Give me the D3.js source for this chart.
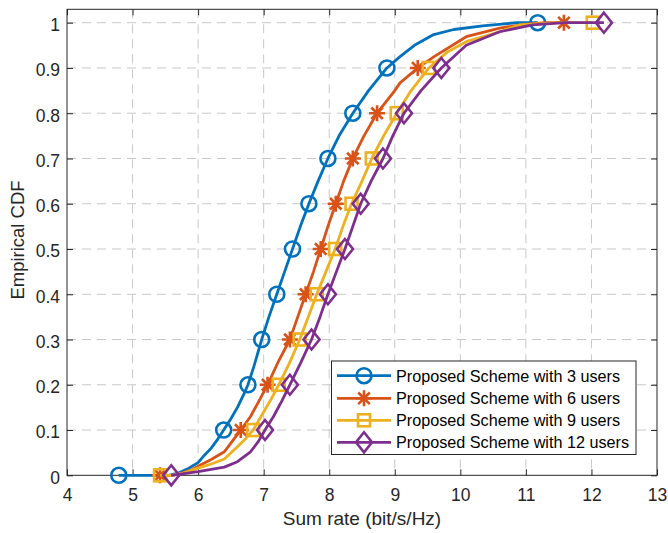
<!DOCTYPE html>
<html><head><meta charset="utf-8">
<script src="https://cdn.jsdelivr.net/npm/d3@7"></script>
<style>body{margin:0;background:#fff}svg{display:block}text{font-family:"Liberation Sans",Arial,Helvetica,sans-serif}</style>
</head><body>
<script>
const xTicks = [4,5,6,7,8,9,10,11,12,13];
const yTicks = [0,0.1,0.2,0.3,0.4,0.5,0.6,0.7,0.8,0.9,1];
const seriesNames = ["Proposed Scheme with 3 users","Proposed Scheme with 6 users","Proposed Scheme with 9 users","Proposed Scheme with 12 users"];
const markerLevels = [0,0.1,0.2,0.3,0.4,0.5,0.6,0.7,0.8,0.9,1];

// curve points [sum rate, CDF]
const users3 = [[4.79,0],[5.55,0],[5.7,0.005],[5.85,0.015],[6.0,0.028],[6.1,0.045],[6.2,0.06],[6.3,0.08],[6.39,0.1],[6.5,0.125],[6.6,0.15],[6.7,0.18],[6.76,0.2],[6.85,0.24],[6.97,0.3],[7.08,0.35],[7.2,0.4],[7.32,0.45],[7.44,0.5],[7.56,0.55],[7.69,0.6],[7.83,0.65],[7.98,0.7],[8.15,0.75],[8.36,0.8],[8.6,0.85],[8.88,0.9],[9.08,0.925],[9.3,0.95],[9.58,0.973],[9.9,0.985],[10.34,0.993],[10.86,1.0],[11.18,1.0]];
const users6 = [[5.42,0],[5.6,0],[5.75,0.005],[5.9,0.012],[6.0,0.02],[6.2,0.035],[6.4,0.052],[6.52,0.075],[6.65,0.1],[6.8,0.13],[6.95,0.17],[7.06,0.2],[7.22,0.25],[7.4,0.3],[7.52,0.35],[7.64,0.4],[7.76,0.45],[7.87,0.5],[7.98,0.55],[8.1,0.6],[8.22,0.65],[8.36,0.7],[8.53,0.75],[8.73,0.8],[9.0,0.85],[9.08,0.867],[9.35,0.9],[9.6,0.925],[10.09,0.969],[10.6,0.988],[11.0,0.997],[11.3,1.0],[11.58,1.0]];
const users9 = [[5.42,0],[5.6,0],[5.8,0.006],[6.0,0.016],[6.2,0.025],[6.4,0.036],[6.6,0.063],[6.72,0.08],[6.84,0.1],[7.0,0.14],[7.12,0.17],[7.23,0.2],[7.4,0.25],[7.55,0.3],[7.68,0.35],[7.81,0.4],[7.95,0.45],[8.09,0.5],[8.21,0.55],[8.34,0.6],[8.5,0.65],[8.65,0.7],[8.83,0.75],[9.03,0.8],[9.25,0.85],[9.52,0.9],[9.8,0.935],[10.09,0.958],[10.6,0.98],[10.9,0.995],[11.5,1.0],[12.02,1.0]];
const users12 = [[5.59,0],[5.7,0.002],[6.0,0.008],[6.4,0.018],[6.6,0.03],[6.8,0.052],[6.92,0.075],[7.02,0.1],[7.15,0.13],[7.28,0.165],[7.4,0.2],[7.57,0.25],[7.73,0.3],[7.86,0.35],[7.98,0.4],[8.11,0.45],[8.24,0.5],[8.36,0.55],[8.48,0.6],[8.64,0.65],[8.82,0.7],[8.97,0.75],[9.14,0.8],[9.4,0.85],[9.71,0.9],[10.09,0.95],[10.6,0.98],[11.1,0.995],[11.6,1.0],[12.19,1.0]];

// marker sum rates at CDF = 0, 0.1, ..., 1
const markers3 = [4.79,6.39,6.76,6.97,7.2,7.44,7.69,7.98,8.36,8.88,11.18];
const markers6 = [5.42,6.65,7.06,7.4,7.64,7.87,8.1,8.36,8.73,9.35,11.58];
const markers9 = [5.42,6.84,7.23,7.55,7.81,8.09,8.34,8.65,9.03,9.52,12.02];
const markers12 = [5.59,7.02,7.4,7.73,7.98,8.24,8.48,8.82,9.14,9.71,12.19];

const colors = ["#0072BD","#D95319","#EDB120","#7E2F8E"];
const shapes = ["circle","asterisk","square","diamond"];
const curves = [users3,users6,users9,users12];
const markerSets = [markers3,markers6,markers9,markers12];

const W=668,H=533;
const L=67,R=657,T=9.3,B=475.3;
const x=d3.scaleLinear().domain([4,13]).range([L,R]);
const y=d3.scaleLinear().domain([0,1.0296]).range([B,T]);
const ink="#262626";

const svg=d3.select("body").append("svg").attr("width",W).attr("height",H);

// grid
const g=svg.append("g");
g.selectAll(".gx").data(xTicks.slice(1,-1)).join("line")
 .attr("x1",d=>x(d)).attr("x2",d=>x(d)).attr("y1",T).attr("y2",B)
 .attr("stroke","#c8c8c8").attr("stroke-width",1).attr("stroke-dasharray","9,6");
g.selectAll(".gy").data(yTicks.slice(1)).join("line")
 .attr("y1",d=>y(d)).attr("y2",d=>y(d)).attr("x1",L).attr("x2",R)
 .attr("stroke","#c8c8c8").attr("stroke-width",1).attr("stroke-dasharray","9,6");

// axes
const fs=17.5;
const xa=d3.axisBottom(x).tickValues(xTicks).tickSize(-6).tickPadding(13).tickFormat(d3.format("d"));
const xAxisG=svg.append("g").attr("transform",`translate(0,${B})`).call(xa);
const xt=d3.axisTop(x).tickValues(xTicks).tickSize(-6).tickFormat("");
const xTopG=svg.append("g").attr("transform",`translate(0,${T})`).call(xt);
const ya=d3.axisLeft(y).tickValues(yTicks).tickSize(-6).tickPadding(7).tickFormat(d=>d===0?"0":d===1?"1":d3.format(".1f")(d));
const yAxisG=svg.append("g").attr("transform",`translate(${L},0)`).call(ya);
const yr=d3.axisRight(y).tickValues(yTicks).tickSize(-6).tickFormat("");
const yRG=svg.append("g").attr("transform",`translate(${R},0)`).call(yr);
[xAxisG,xTopG,yAxisG,yRG].forEach(a=>{
  a.select(".domain").remove();
  a.selectAll("line").attr("stroke",ink).attr("stroke-width",1);
  a.selectAll("text").attr("fill",ink).style("font-size",fs+"px").style("font-family","'Liberation Sans',Arial,sans-serif");
});
yAxisG.selectAll("text").attr("dy","0.45em");
svg.append("rect").attr("x",L).attr("y",T).attr("width",R-L).attr("height",B-T)
 .attr("fill","none").attr("stroke",ink).attr("stroke-width",1);

// labels
svg.append("text").attr("x",(L+R)/2).attr("y",525).attr("text-anchor","middle")
 .attr("fill",ink).style("font-size","19px").text("Sum rate (bit/s/Hz)");
svg.append("text").attr("transform",`translate(23.5,240) rotate(-90)`).attr("text-anchor","middle")
 .attr("fill",ink).style("font-size","18.5px").text("Empirical CDF");

function drawMarker(sel,shape,color,cx,cy){
  const s=sel.append("g").attr("transform",`translate(${cx},${cy})`);
  if(shape==="circle") s.append("circle").attr("r",7.5).attr("fill","none").attr("stroke",color).attr("stroke-width",2.6);
  else if(shape==="square") s.append("rect").attr("x",-6).attr("y",-6).attr("width",12).attr("height",12).attr("fill","none").attr("stroke",color).attr("stroke-width",2.6);
  else if(shape==="diamond") s.append("path").attr("d","M0,-10L8,0L0,10L-8,0Z").attr("fill","none").attr("stroke",color).attr("stroke-width",2.6);
  else {
    const r=8,d=r*0.72;
    s.append("path").attr("d",`M${-r},0H${r}M0,${-r}V${r}M${-d},${-d}L${d},${d}M${-d},${d}L${d},${-d}`)
     .attr("stroke",color).attr("stroke-width",2.6).attr("fill","none");
  }
}

const line=d3.line().x(d=>x(d[0])).y(d=>y(d[1]));
const plot=svg.append("g");
curves.forEach((c,i)=>{
  const sg=plot.append("g");
  sg.append("path").datum(c).attr("d",line).attr("fill","none").attr("stroke",colors[i]).attr("stroke-width",2.8).attr("stroke-linejoin","round");
  markerSets[i].forEach((mx,k)=>drawMarker(sg,shapes[i],colors[i],x(mx),y(markerLevels[k])));
});

// legend
const lg=svg.append("g");
lg.append("rect").attr("x",331.5).attr("y",361).attr("width",304.5).attr("height",93.5).attr("fill","#fff").attr("stroke",ink).attr("stroke-width",1);
const rowY=[375.7,398.3,420.3,442.3];
seriesNames.forEach((n,i)=>{
  lg.append("line").attr("x1",337).attr("x2",391).attr("y1",rowY[i]).attr("y2",rowY[i]).attr("stroke",colors[i]).attr("stroke-width",2.8);
  drawMarker(lg,shapes[i],colors[i],364,rowY[i]);
  lg.append("text").attr("x",396).attr("y",rowY[i]).attr("dy","0.36em").attr("fill","#000").style("font-size","16.2px").text(n);
});
</script>
</body></html>
